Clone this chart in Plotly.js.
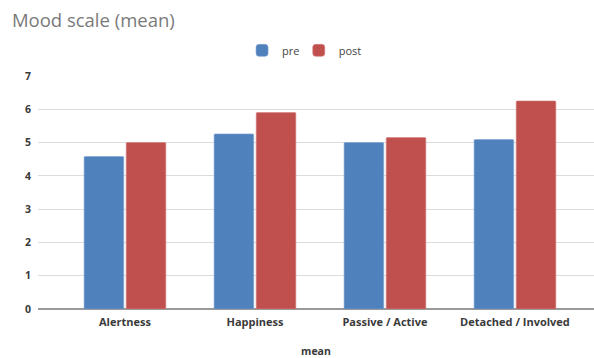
<!DOCTYPE html>
<html>
<head>
<meta charset="utf-8">
<script src="https://cdn.plot.ly/plotly-3.0.1.min.js"></script>
<style>html,body{margin:0;padding:0;background:#fff;}#chart{width:594px;height:358px;}</style>
</head>
<body>
<div id="chart"></div>
<script>
const categories = ["Alertness", "Happiness", "Passive / Active", "Detached / Involved"];
const preValues = [4.58, 5.26, 5.0, 5.09];
const postValues = [5.0, 5.9, 5.15, 6.25];
const seriesNames = ["pre", "post"];
const yTicks = [0, 1, 2, 3, 4, 5, 6, 7];

const data = [
  {type: "bar", name: seriesNames[0], x: categories, y: preValues, legend: "legend",
   marker: {color: "#4f81bd", cornerradius: 1, line: {color: "#7fa3d1", width: 0.6}}},
  {type: "bar", name: seriesNames[1], x: categories, y: postValues, legend: "legend2",
   marker: {color: "#c0504d", cornerradius: 1, line: {color: "#d3807d", width: 0.6}}}
];

const legendBase = {orientation: "h", xanchor: "left", y: 1.11, yanchor: "middle",
                    font: {size: 11, color: "#444"}, itemwidth: 30, bgcolor: "rgba(0,0,0,0)"};

const layout = {
  width: 594, height: 358,
  margin: {l: 38, r: 0, t: 76, b: 49, pad: 0},
  paper_bgcolor: "#fff", plot_bgcolor: "#fff",
  font: {family: "Open Sans, sans-serif", color: "#444"},
  title: {text: "Mood scale (mean)", x: 0.02, xanchor: "left", y: 0.944, yanchor: "middle",
          font: {family: "Open Sans, sans-serif", size: 18.5, color: "#7a7a7a"}},
  barmode: "group", bargap: 0.352, bargroupgap: 0.06,
  showlegend: true,
  legend: Object.assign({}, legendBase, {x: 0.367}),
  legend2: Object.assign({}, legendBase, {x: 0.469}),
  xaxis: {type: "category", range: [-0.669, 3.608], showgrid: false, showline: false,
          ticks: "", ticklabelstandoff: 5,
          tickfont: {size: 11, color: "#3a3a3a", family: "Open Sans, sans-serif", weight: "bold"},
          title: {text: "mean", standoff: 26, font: {size: 10.5, color: "#3a3a3a", weight: "bold"}},
          fixedrange: true},
  yaxis: {range: [0, 7], tickvals: yTicks, showgrid: true, gridcolor: "#dcdcdc", gridwidth: 1,
          zeroline: true, zerolinecolor: "#9a9a9a", zerolinewidth: 1.5, showline: false,
          ticks: "", ticklabelstandoff: 6,
          tickfont: {size: 10.5, color: "#3a3a3a", weight: "bold"}, fixedrange: true}
};

Plotly.newPlot("chart", data, layout, {displayModeBar: false, staticPlot: true});
</script>
</body>
</html>
